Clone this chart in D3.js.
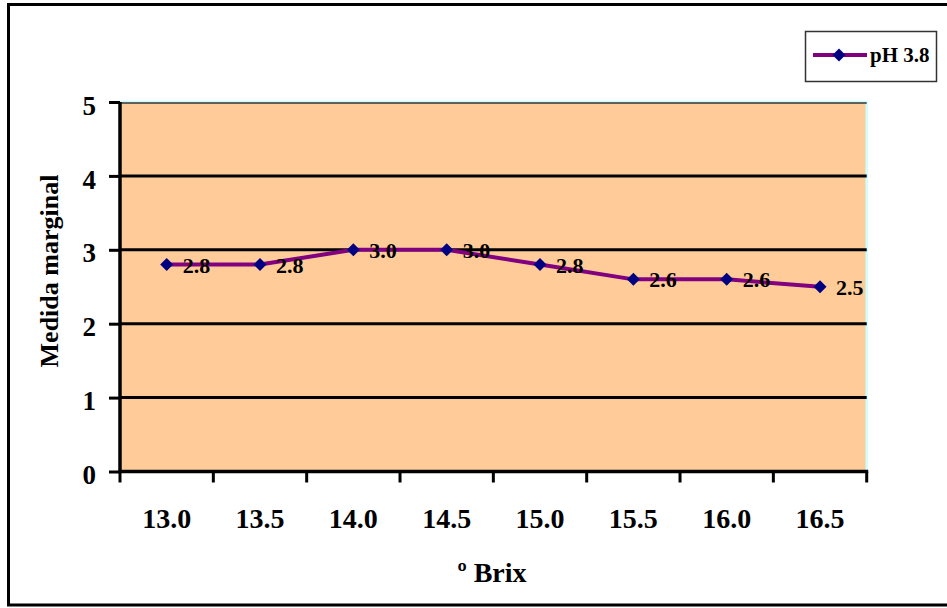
<!DOCTYPE html>
<html>
<head>
<meta charset="utf-8">
<script src="https://cdn.jsdelivr.net/npm/d3@7"></script>
<style>
  html, body { margin: 0; padding: 0; background: #ffffff; }
  svg { display: block; }
  text { font-family: "Liberation Serif", "Times New Roman", serif; font-weight: bold; fill: #000; }
</style>
</head>
<body>
<svg id="chart" width="947" height="608"></svg>
<script>
// Brix categories and the marginal measure for the pH 3.8 series
const brixLabels = ["13.0", "13.5", "14.0", "14.5", "15.0", "15.5", "16.0", "16.5"];
const ph38Values = [2.8, 2.8, 3.0, 3.0, 2.8, 2.6, 2.6, 2.5];
const yTicks = [0, 1, 2, 3, 4, 5];
const seriesName = "pH 3.8";
const xTitle = "º Brix";
const yTitle = "Medida marginal";

const svg = d3.select("#chart");

const plot = { left: 120, right: 866.7, top: 102, bottom: 471.5 };

const x = d3.scaleBand().domain(brixLabels).range([plot.left, plot.right]);
const y = d3.scaleLinear().domain([0, 5]).range([plot.bottom, plot.top]);

// outer chart frame (runs off the right edge)
svg.append("rect")
  .attr("x", 8.5).attr("y", 4.5)
  .attr("width", 980).attr("height", 600.5)
  .attr("fill", "none").attr("stroke", "#000").attr("stroke-width", 3);

// plot background
svg.append("rect")
  .attr("x", plot.left).attr("y", plot.top)
  .attr("width", plot.right - plot.left).attr("height", plot.bottom - plot.top)
  .attr("fill", "#FFCC99").attr("stroke", "#CCFFFF").attr("stroke-width", 2.5);

// horizontal gridlines
svg.append("g").selectAll("line")
  .data(yTicks.filter(d => d > 0))
  .join("line")
  .attr("x1", plot.left).attr("x2", plot.right)
  .attr("y1", d => y(d) + (d === 5 ? 1 : 0)).attr("y2", d => y(d) + (d === 5 ? 1 : 0))
  .attr("stroke", d => d === 5 ? "#333" : "#000")
  .attr("stroke-width", d => d === 5 ? 1.5 : 3);

// y axis
const yAxis = svg.append("g")
  .attr("transform", `translate(${plot.left},0)`)
  .call(d3.axisLeft(y).tickValues(yTicks).tickFormat(d3.format("d")).tickSize(11).tickPadding(13));
yAxis.select(".domain").attr("stroke", "#000").attr("stroke-width", 3.5)
  .attr("d", `M0,${plot.bottom + 1.5}V${plot.top}`);
yAxis.selectAll(".tick line").attr("stroke", "#000").attr("stroke-width", 3);
yAxis.selectAll(".tick text")
  .attr("dy", "0.45em")
  .style("font-family", '"Liberation Serif", "Times New Roman", serif')
  .style("font-weight", "bold").style("font-size", "27px").attr("fill", "#000");

// x axis line and boundary ticks
const xAxis = svg.append("g");
xAxis.append("line")
  .attr("x1", plot.left - 1.5).attr("x2", plot.right + 1.5)
  .attr("y1", plot.bottom).attr("y2", plot.bottom)
  .attr("stroke", "#000").attr("stroke-width", 3.5);
const bounds = brixLabels.map(c => x(c)).concat([x.range()[1]]);
xAxis.selectAll("line.tick")
  .data(bounds)
  .join("line")
  .attr("class", "tick")
  .attr("x1", d => d).attr("x2", d => d)
  .attr("y1", plot.bottom).attr("y2", plot.bottom + 11)
  .attr("stroke", "#000").attr("stroke-width", 3);
xAxis.selectAll("text")
  .data(brixLabels)
  .join("text")
  .attr("x", d => x(d) + x.bandwidth() / 2)
  .attr("y", 528)
  .attr("text-anchor", "middle")
  .style("font-size", "28px")
  .text(d => d);

// axis titles
svg.append("text")
  .attr("transform", "translate(58,271) rotate(-90)")
  .attr("text-anchor", "middle")
  .style("font-size", "26px")
  .text(yTitle);
svg.append("text")
  .attr("x", 492).attr("y", 582)
  .attr("text-anchor", "middle")
  .style("font-size", "28px")
  .text(xTitle);

// series line
const pts = brixLabels.map((c, i) => ({ c, v: ph38Values[i] }));
const line = d3.line().x(d => x(d.c) + x.bandwidth() / 2).y(d => y(d.v));
svg.append("path")
  .datum(pts)
  .attr("d", line)
  .attr("fill", "none").attr("stroke", "#800080").attr("stroke-width", 4)
  .attr("stroke-linejoin", "round");

// diamond markers
const diamond = "M0,-6.5L6.5,0L0,6.5L-6.5,0Z";
svg.append("g").selectAll("path")
  .data(pts)
  .join("path")
  .attr("transform", d => `translate(${x(d.c) + x.bandwidth() / 2},${y(d.v)})`)
  .attr("d", diamond)
  .attr("fill", "#000080");

// value labels
svg.append("g").selectAll("text")
  .data(pts)
  .join("text")
  .attr("x", d => x(d.c) + x.bandwidth() / 2 + 16)
  .attr("y", d => y(d.v) + 8)
  .style("font-size", "22px")
  .text(d => d3.format(".1f")(d.v));

// legend
const lg = svg.append("g");
lg.append("rect")
  .attr("x", 805.5).attr("y", 31.5).attr("width", 131).attr("height", 50)
  .attr("fill", "#fff").attr("stroke", "#333").attr("stroke-width", 1.5);
lg.append("line")
  .attr("x1", 813).attr("x2", 867).attr("y1", 55).attr("y2", 55)
  .attr("stroke", "#800080").attr("stroke-width", 4);
lg.append("path")
  .attr("transform", "translate(839,55)")
  .attr("d", diamond)
  .attr("fill", "#000080");
lg.append("text")
  .attr("x", 870).attr("y", 62)
  .style("font-size", "21px")
  .text(seriesName);
</script>
</body>
</html>
